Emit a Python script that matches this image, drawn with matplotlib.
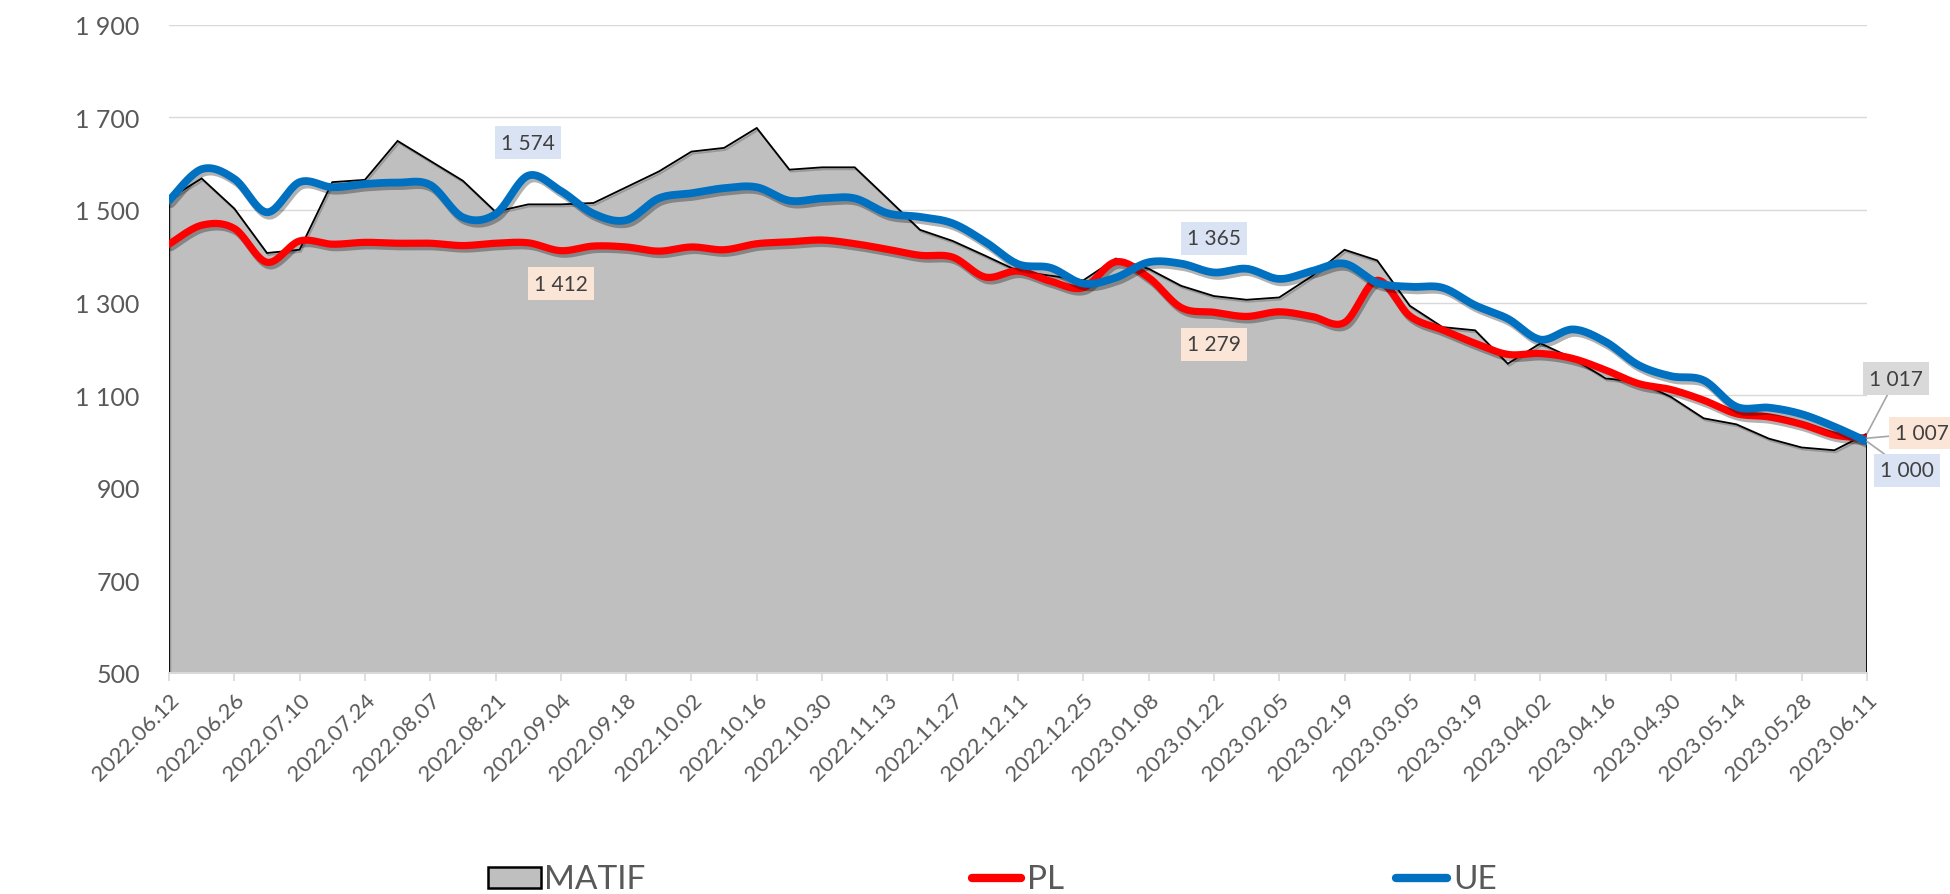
import numpy as np
import pandas as pd
import matplotlib
matplotlib.use("Agg")
import matplotlib.pyplot as plt
import matplotlib.patheffects as pe
from matplotlib.lines import Line2D
from matplotlib.patches import Rectangle

plt.rcParams['font.family'] = ['Lato', 'DejaVu Sans']

# weekly categories
dates = pd.date_range("2022-06-12", periods=53, freq="7D")
date_labels = [d.strftime("%Y.%m.%d") for d in dates]

matif = [1524, 1568, 1503, 1407, 1414, 1560, 1565, 1649, 1606, 1563,
         1496, 1512, 1512, 1515, 1549, 1583, 1626, 1634, 1677, 1587,
         1592, 1592, 1525, 1457, 1433, 1401, 1368, 1358, 1348, 1395,
         1373, 1336, 1314, 1306, 1311, 1357, 1414, 1391, 1293, 1247,
         1240, 1168, 1212, 1179, 1136, 1129, 1096, 1050, 1037, 1006,
         987, 981, 1017]

pl = [1426, 1467, 1460, 1387, 1433, 1426, 1430, 1428, 1428, 1423,
      1428, 1429, 1412, 1422, 1420, 1411, 1420, 1414, 1427, 1431,
      1435, 1427, 1415, 1402, 1398, 1355, 1368, 1346, 1332, 1388,
      1354, 1289, 1279, 1270, 1280, 1270, 1257, 1348, 1271, 1241,
      1212, 1188, 1190, 1179, 1154, 1125, 1112, 1089, 1060, 1053,
      1037, 1014, 1007]

ue = [1520, 1588, 1567, 1495, 1560, 1549, 1556, 1559, 1554, 1484,
      1491, 1574, 1541, 1492, 1478, 1525, 1536, 1547, 1549, 1520,
      1525, 1525, 1493, 1485, 1471, 1431, 1383, 1375, 1341, 1354,
      1387, 1384, 1365, 1373, 1351, 1368, 1384, 1343, 1334, 1332,
      1294, 1265, 1220, 1242, 1215, 1165, 1141, 1132, 1075, 1073,
      1059, 1032, 1000]

# labelled points: (series, index, box colour, offset in pixels)
labels = [
    ("ue", 11, "#DAE3F3", (0, 33)),
    ("pl", 12, "#FBE5D6", (0, -33)),
    ("ue", 32, "#DAE3F3", (0, 34)),
    ("pl", 32, "#FBE5D6", (0, -32)),
    ("matif", 52, "#D9D9D9", (29, 55)),
    ("pl", 52, "#FBE5D6", (55, 5)),
    ("ue", 52, "#DAE3F3", (40, -29)),
]

W, H = 1950, 895


def smooth(y, n=24):
    # Excel-style smoothed line: cubic bezier, control points at 1/6 of neighbour span
    y = np.asarray(y, dtype=float)
    x = np.arange(len(y), dtype=float)
    px = np.concatenate([[x[0]], x, [x[-1]]])
    py = np.concatenate([[y[0]], y, [y[-1]]])
    t = np.linspace(0, 1, n)
    xs, ys = [], []
    for i in range(len(y) - 1):
        x0, y0 = px[i + 1], py[i + 1]
        x3, y3 = px[i + 2], py[i + 2]
        x1 = x0 + (px[i + 2] - px[i]) / 6
        y1 = y0 + (py[i + 2] - py[i]) / 6
        x2 = x3 - (px[i + 3] - px[i + 1]) / 6
        y2 = y3 - (py[i + 3] - py[i + 1]) / 6
        bx = (1 - t) ** 3 * x0 + 3 * (1 - t) ** 2 * t * x1 + 3 * (1 - t) * t ** 2 * x2 + t ** 3 * x3
        by = (1 - t) ** 3 * y0 + 3 * (1 - t) ** 2 * t * y1 + 3 * (1 - t) * t ** 2 * y2 + t ** 3 * y3
        xs.append(bx if i == 0 else bx[1:])
        ys.append(by if i == 0 else by[1:])
    return np.concatenate(xs), np.concatenate(ys)


def fmt(v):
    return f"{v:,.0f}".replace(",", " ")


fig = plt.figure(figsize=(W / 100, H / 100), dpi=100)
ax = fig.add_axes([169 / W, 1 - 674 / H, (1867 - 169) / W, (674 - 25.7) / H])

x = np.arange(len(dates))
ax.set_xlim(0, len(dates) - 1)
ax.set_ylim(500, 1900)

# MATIF area
ax.fill_between(x, matif, 500, facecolor="#BFBFBF", edgecolor="none", zorder=1)
ax.plot(np.r_[0, x, x[-1]], np.r_[500, matif, 500], color="black", lw=1.3, zorder=2,
        solid_joinstyle="miter",
        path_effects=[pe.SimpleLineShadow(offset=(1, -1.5), alpha=0.2), pe.Normal()])

shadow = [pe.SimpleLineShadow(offset=(1.5, -2.5), shadow_color="black", alpha=0.3), pe.Normal()]
sx, sy = smooth(pl)
ax.plot(sx, sy, color="#FF0000", lw=5.2, solid_capstyle="round", zorder=3, path_effects=shadow)
sx, sy = smooth(ue)
ax.plot(sx, sy, color="#0070C0", lw=5.6, solid_capstyle="round", zorder=4, path_effects=shadow)

# grid / axes
yt = np.arange(500, 1901, 200)
ax.set_yticks(yt)
ax.set_yticklabels([fmt(v) for v in yt])
ax.grid(axis="y", color="#D9D9D9", lw=1.0, zorder=0)
ax.set_axisbelow(True)
for s in ["top", "right", "left"]:
    ax.spines[s].set_visible(False)
ax.spines["bottom"].set_color("#D9D9D9")
ax.spines["bottom"].set_linewidth(1.5)
ax.spines["bottom"].set_zorder(2.5)
ax.tick_params(axis="y", length=0, pad=21, labelsize=18, labelcolor="#595959")

ax.set_xticks(x[::2])
ax.set_xticklabels(date_labels[::2], rotation=45, ha="right", rotation_mode="anchor")
ax.tick_params(axis="x", length=6, width=1.2, color="#D9D9D9", pad=6,
               labelsize=16, labelcolor="#595959")

series = {"matif": matif, "pl": pl, "ue": ue}
for name, i, fc, off in labels:
    v = series[name][i]
    kw = {}
    if i == len(dates) - 1:
        kw["arrowprops"] = dict(arrowstyle="-", color="#A6A6A6", lw=1.2, shrinkA=0, shrinkB=0)
    ax.annotate(fmt(v), xy=(i, v), xytext=off, textcoords="offset pixels",
                ha="center", va="center", fontsize=15, color="#404040",
                bbox=dict(boxstyle="square,pad=0.3", fc=fc, ec="none"),
                annotation_clip=False, zorder=6, **kw)


# legend drawn by hand along the bottom edge
def fx(px):
    return px / W


def fy(py):
    return 1 - py / H


fig.add_artist(Rectangle((fx(488), fy(889)), fx(541) - fx(488), fy(868) - fy(889),
                         transform=fig.transFigure, facecolor="#BFBFBF",
                         edgecolor="black", lw=1.8))
fig.text(fx(544), fy(880), "MATIF", fontsize=24, color="#595959", va="center", ha="left")
fig.add_artist(Line2D([fx(972), fx(1021)], [fy(879), fy(879)], transform=fig.transFigure,
                      color="#FF0000", lw=6, solid_capstyle="round"))
fig.text(fx(1027), fy(880), "PL", fontsize=24, color="#595959", va="center", ha="left")
fig.add_artist(Line2D([fx(1396), fx(1447)], [fy(879), fy(879)], transform=fig.transFigure,
                      color="#0070C0", lw=6, solid_capstyle="round"))
fig.text(fx(1453), fy(880), "UE", fontsize=24, color="#595959", va="center", ha="left")

fig.savefig("out.png", dpi=100)
